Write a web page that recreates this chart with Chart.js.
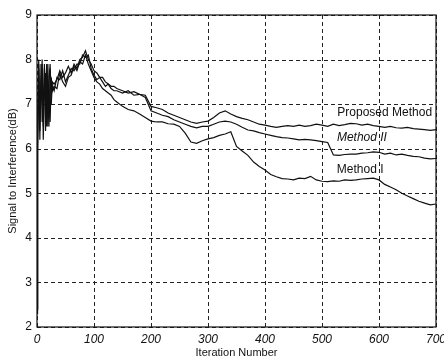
<!DOCTYPE html>
<html>
<head>
<meta charset="utf-8">
<script src="https://cdn.jsdelivr.net/npm/chart.js@4.4.0/dist/chart.umd.min.js"></script>
<style>
  html, body { margin: 0; padding: 0; background: #fff; }
  canvas { display: block; }
</style>
</head>
<body>
<canvas id="myChart" width="444" height="361"></canvas>
<script>
// iteration numbers (x values), denser where the curves oscillate at the start
const iterations = [0, 1, 3, 5, 7, 9, 11, 13, 15, 17, 19, 21, 23, 25, 27,
    30, 35, 40, 45, 50, 55, 60, 65, 70, 75, 80, 85, 90, 95, 100, 105, 110, 115, 120, 125, 130, 135, 140,
    150, 160, 170, 180, 190, 200, 210, 220, 230, 240, 250, 260, 270, 280, 290, 300,
    310, 320, 330, 340, 350, 360, 370, 380, 390, 400, 410, 420, 430, 440, 450, 460, 470, 480, 490, 500,
    510, 520, 530, 540, 550, 560, 570, 580, 590, 600, 610, 620, 630, 640, 650, 660, 670, 680, 690, 700];

const proposedMethod = [2.4, 6.3, 8.0, 6.4, 7.5, 7.9, 6.5, 7.8, 7.0, 7.9, 6.5, 7.5, 7.9, 7.0, 7.5,
    7.45, 7.55, 7.75, 7.6, 7.7, 7.85, 7.7, 7.9, 7.8, 8.0, 8.05, 8.2, 8.0, 7.9, 7.75, 7.7, 7.6, 7.6, 7.5, 7.45, 7.4, 7.4, 7.35,
    7.3, 7.25, 7.28, 7.22, 7.2, 6.95, 6.92, 6.88, 6.8, 6.75, 6.7, 6.65, 6.6, 6.57, 6.6, 6.62,
    6.7, 6.8, 6.85, 6.78, 6.72, 6.68, 6.65, 6.6, 6.55, 6.53, 6.5, 6.48, 6.5, 6.52, 6.5, 6.53, 6.5, 6.52, 6.55, 6.53,
    6.5, 6.55, 6.52, 6.54, 6.57, 6.56, 6.53, 6.55, 6.52, 6.5, 6.48, 6.5, 6.47, 6.46, 6.48, 6.45, 6.44, 6.43, 6.41, 6.43];

const methodII = [2.4, 6.0, 7.8, 6.2, 7.9, 6.6, 6.9, 7.9, 6.4, 7.6, 7.2, 6.5, 7.8, 7.3, 7.4,
    7.3, 7.6, 7.55, 7.75, 7.5, 7.65, 7.8, 7.75, 7.9, 7.9, 8.1, 8.05, 8.1, 7.8, 7.65, 7.55, 7.6, 7.5, 7.4, 7.45, 7.35, 7.3, 7.3,
    7.25, 7.3, 7.2, 7.22, 7.15, 6.85, 6.8, 6.75, 6.72, 6.65, 6.6, 6.55, 6.5, 6.47, 6.5, 6.5,
    6.55, 6.6, 6.62, 6.6, 6.55, 6.48, 6.42, 6.4, 6.36, 6.33, 6.3, 6.27, 6.25, 6.24, 6.22, 6.2, 6.21, 6.2, 6.18, 6.16,
    6.14, 5.86, 5.85, 5.87, 5.88, 5.88, 5.9, 5.91, 5.93, 5.92, 5.88, 5.9, 5.86, 5.88, 5.85, 5.83, 5.82, 5.79, 5.77, 5.78];

const methodI = [2.3, 5.9, 7.9, 6.6, 7.1, 8.0, 6.2, 7.4, 7.7, 6.5, 7.9, 7.0, 6.6, 7.6, 7.3,
    7.4, 7.35, 7.7, 7.5, 7.4, 7.6, 7.65, 7.85, 7.75, 7.95, 7.9, 8.1, 7.9, 7.75, 7.6, 7.5, 7.45, 7.35, 7.3, 7.25, 7.2, 7.1, 7.05,
    6.95, 6.88, 6.85, 6.78, 6.7, 6.62, 6.6, 6.6, 6.56, 6.55, 6.5, 6.35, 6.15, 6.12, 6.18, 6.22,
    6.25, 6.3, 6.33, 6.38, 6.05, 5.95, 5.85, 5.7, 5.6, 5.52, 5.42, 5.37, 5.33, 5.32, 5.3, 5.34, 5.33, 5.38, 5.3, 5.27,
    5.26, 5.28, 5.27, 5.3, 5.29, 5.3, 5.32, 5.33, 5.34, 5.3, 5.2, 5.14, 5.08, 5.0, 4.94, 4.88, 4.82, 4.78, 4.74, 4.76];

const xTicks = [0, 100, 200, 300, 400, 500, 600, 700];
const yTicks = [2, 3, 4, 5, 6, 7, 8, 9];

// curve labels, placed in data coordinates
const curveLabels = [
    { text: 'Proposed Method', x: 610, y: 6.80, italic: false },
    { text: 'Method II', x: 570, y: 6.24, italic: true },
    { text: 'Method I', x: 567, y: 5.52, italic: false }
];

function toPoints(values) {
    return iterations.map(function (it, i) {
        return { x: it, y: values[i] };
    });
}

function lineSet(label, values) {
    return {
        label: label,
        data: toPoints(values),
        borderColor: '#111',
        borderWidth: 1.2,
        pointRadius: 0,
        tension: 0,
        fill: false
    };
}

// dashed grid from the scale ticks (drawn under the curves)
const dashedGrid = {
    id: 'dashedGrid',
    beforeDatasetsDraw: function (chart) {
        const ctx = chart.ctx;
        const area = chart.chartArea;
        const xs = chart.scales.x;
        const ys = chart.scales.y;
        ctx.save();
        ctx.strokeStyle = '#222';
        ctx.lineWidth = 1;
        ctx.setLineDash([4, 3]);
        xs.ticks.forEach(function (t) {
            const x = Math.round(xs.getPixelForValue(t.value)) + 0.5;
            ctx.beginPath();
            ctx.moveTo(x, area.top);
            ctx.lineTo(x, area.bottom);
            ctx.stroke();
        });
        ys.ticks.forEach(function (t) {
            const y = Math.round(ys.getPixelForValue(t.value)) + 0.5;
            ctx.beginPath();
            ctx.moveTo(area.left, y);
            ctx.lineTo(area.right, y);
            ctx.stroke();
        });
        ctx.restore();
    }
};

// solid box round the plot area plus the text labels next to the curves
const boxAndLabels = {
    id: 'boxAndLabels',
    afterDatasetsDraw: function (chart) {
        const ctx = chart.ctx;
        const area = chart.chartArea;
        const xs = chart.scales.x;
        const ys = chart.scales.y;
        ctx.save();
        ctx.strokeStyle = '#111';
        ctx.lineWidth = 1.2;
        ctx.setLineDash([]);
        ctx.strokeRect(area.left, area.top, area.right - area.left, area.bottom - area.top);

        ctx.fillStyle = '#111';
        ctx.textAlign = 'center';
        ctx.textBaseline = 'middle';
        curveLabels.forEach(function (l) {
            ctx.font = (l.italic ? 'italic ' : '') + '12px "Liberation Sans", Arial, sans-serif';
            ctx.fillText(l.text, xs.getPixelForValue(l.x), ys.getPixelForValue(l.y));
        });
        ctx.restore();
    }
};

function init() {
    const ctx = document.getElementById('myChart').getContext('2d');

    new Chart(ctx, {
        type: 'line',
        data: {
            datasets: [
                lineSet('Proposed Method', proposedMethod),
                lineSet('Method II', methodII),
                lineSet('Method I', methodI)
            ]
        },
        options: {
            responsive: false,
            animation: false,
            devicePixelRatio: 1,
            layout: { padding: { left: 0, right: 8, top: 15, bottom: 0 } },
            plugins: {
                legend: { display: false },
                tooltip: { enabled: false }
            },
            scales: {
                x: {
                    type: 'linear',
                    min: 0,
                    max: 700,
                    afterBuildTicks: function (scale) {
                        scale.ticks = xTicks.map(function (v) { return { value: v }; });
                    },
                    afterFit: function (scale) {
                        scale.height = 34;
                        scale.paddingLeft = 0;
                        scale.paddingRight = 0;
                    },
                    ticks: {
                        color: '#111',
                        padding: 5,
                        maxRotation: 0,
                        autoSkip: false,
                        font: { family: '"Liberation Sans", Arial, sans-serif', size: 12, style: 'italic' }
                    },
                    grid: { display: false, drawTicks: false },
                    border: { display: false },
                    title: {
                        display: true,
                        text: 'Iteration Number',
                        color: '#111',
                        padding: { top: 0, bottom: 1 },
                        font: { family: '"Liberation Sans", Arial, sans-serif', size: 11 }
                    }
                },
                y: {
                    min: 2,
                    max: 9,
                    afterBuildTicks: function (scale) {
                        scale.ticks = yTicks.map(function (v) { return { value: v }; });
                    },
                    afterFit: function (scale) {
                        scale.width = 37;
                        scale.paddingTop = 0;
                        scale.paddingBottom = 0;
                    },
                    ticks: {
                        color: '#111',
                        padding: 5,
                        font: { family: '"Liberation Sans", Arial, sans-serif', size: 12 }
                    },
                    grid: { display: false, drawTicks: false },
                    border: { display: false },
                    title: {
                        display: true,
                        text: 'Signal to Interference(dB)',
                        color: '#111',
                        padding: { top: 6, bottom: 0 },
                        font: { family: '"Liberation Sans", Arial, sans-serif', size: 11 }
                    }
                }
            }
        },
        plugins: [dashedGrid, boxAndLabels]
    });
}

init();
</script>
</body>
</html>
